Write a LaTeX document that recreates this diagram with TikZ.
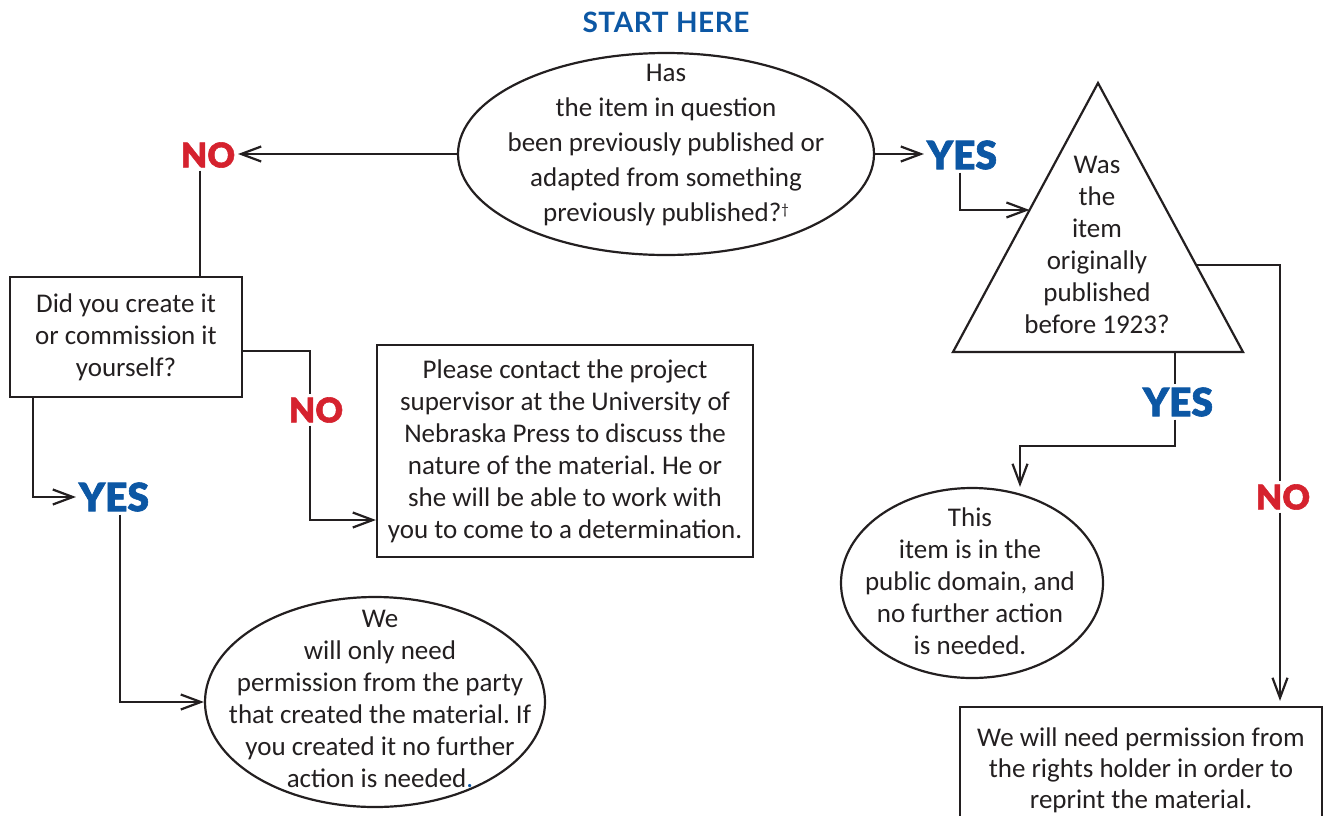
\documentclass[tikz,border=0pt]{standalone}
\usepackage{fontspec}
\setmainfont{Carlito}
\newfontfamily\heavy{Lato Black}[FakeBold=1.6]
\newfontfamily\startfont{Lato}[LetterSpace=2]
\usetikzlibrary{shapes.geometric,arrows.meta,calc}
\definecolor{ink}{HTML}{231F20}
\definecolor{nblue}{HTML}{0C57A4}
\definecolor{nred}{HTML}{D5222E}
\frenchspacing
\tikzset{
  outline/.style={draw=ink, line width=2.2pt, inner sep=0pt},
  ell/.style={outline, ellipse},
  box/.style={outline, rectangle, align=center, text=ink, font=\fontsize{27}{32}\selectfont},
  txt/.style={align=center, text=ink, inner sep=0pt, font=\fontsize{27}{32}\selectfont},
  nolab/.style={inner sep=0pt, outer sep=3pt, text=nred, font=\heavy\fontsize{34}{34}\selectfont},
  yeslab/.style={inner sep=0pt, outer sep=3pt, text=nblue, font=\heavy\fontsize{39}{39}\selectfont},
  conn/.style={draw=ink, line width=2.2pt},
  arr/.style={conn, -{Straight Barb[length=20pt,width=15pt]}}
}
\begin{document}
\frenchspacing
\begin{tikzpicture}[x=1pt,y=-1pt]
\useasboundingbox (0,0) rectangle (1325,815);
% title
\node[text=nblue, inner sep=0pt, font=\startfont\bfseries\fontsize{28}{28}\selectfont] (start) at (666,22) {START HERE};
% top question
\node[ell, minimum width=416pt, minimum height=202pt] (q1) at (666,154) {};
\node[txt, font=\fontsize{27}{35}\selectfont] (q1t) at (666,145) {Has\\the item in question\\been previously published or\\adapted from something\\previously published?{\fontsize{15}{15}\selectfont\raisebox{7pt}{†}}};
% left branch
\node[nolab] (no1) at (208,155) {NO};
\node[box, minimum width=232pt, minimum height=120pt] (b1) at (126,337) {Did you create it\\or commission it\\yourself?};
\node[nolab] (no2) at (316,410) {NO};
\node[box, minimum width=376pt, minimum height=212pt] (b2) at (565,451) {Please contact the project\\supervisor at the University of\\Nebraska Press to discuss the\\nature of the material. He or\\she will be able to work with\\you to come to a determination.};
\node[yeslab] (yes1) at (114,497) {YES};
\node[ell, minimum width=340pt, minimum height=210pt] (e2) at (375,702) {};
\node[txt] (e2t) at (380,699) {We\\will only need\\permission from the party\\that created the material. If\\you created it no further\\action is needed\textcolor{nblue}{.}};
% right branch
\node[yeslab] (yes2) at (962,155) {YES};
\coordinate (A) at (1098,83);
\coordinate (L) at (953,352);
\coordinate (R) at (1243,352);
\draw[outline] (A) -- (R) -- (L) -- cycle;
\node[txt] (trit) at (1097,245) {Was\\the\\item\\originally\\published\\before 1923?};
\coordinate (trileft) at ($(A)!0.472!(L)$);
\coordinate (triright) at ($(A)!0.677!(R)$);
\coordinate (tribase) at ($(L)!0.766!(R)$);
\node[yeslab] (yes3) at (1178,402) {YES};
\node[nolab] (no3) at (1283,497) {NO};
\node[ell, minimum width=262pt, minimum height=190pt] (e3) at (972,583) {};
\node[txt] (e3t) at (970,581) {This\\item is in the\\public domain, and\\no further action\\is needed.};
\node[box, minimum width=362pt, minimum height=122pt, text depth=0pt, font=\fontsize{27}{31}\selectfont] (b3) at (1141,768) {We will need permission from\\the rights holder in order to\\reprint the material.};
\coordinate (bend) at (1020,446);
% connectors
\draw[arr] (q1.west) -- (no1.east |- q1.west);
\draw[conn] ([xshift=-8pt]no1.south) -- ([xshift=-8pt]no1.south |- b1.north);
\draw[conn] ([yshift=-14pt]b1.east) -| ([xshift=-6pt]no2.north);
\draw[arr] ([xshift=-6pt]no2.south) |- ([yshift=-69pt]b2.west);
\draw[arr] ([xshift=-93pt]b1.south) |- (yes1.west);
\draw[arr] ([xshift=6pt]yes1.south) |- (e2.west);
\draw[arr] (q1.east) -- (yes2.west |- q1.east);
\draw[arr] ([xshift=-2pt]yes2.south) |- (trileft);
\draw[conn] (triright) -| ([xshift=-3pt]no3.north);
\draw[arr, shorten >=5pt] ([xshift=-3pt]no3.south) -- ([xshift=-3pt]no3.south |- b3.north);
\draw[conn] (tribase) -- (tribase |- yes3.north);
\draw[arr] ([xshift=-3pt]yes3.south) |- (bend) -- (bend |- e3.north);
\end{tikzpicture}
\end{document}
